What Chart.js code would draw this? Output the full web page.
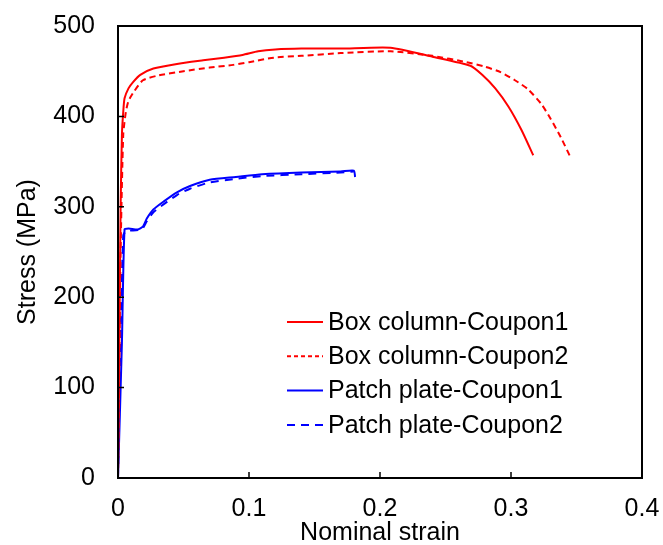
<!DOCTYPE html>
<html lang="en">
<head>
    <meta charset="UTF-8">
    <title>Stress - strain of coupons</title>
    <script src="https://cdn.jsdelivr.net/npm/chart.js"></script>
    <style>
        html, body { margin: 0; padding: 0; background: #fff; }
        #wrap { width: 663px; height: 545px; }
    </style>
</head>
<body>
    <div id="wrap"><canvas id="myChart" width="663" height="545"></canvas></div>
    <script>
        // values
        const boxC1Strain = [0, 0.001, 0.002, 0.003, 0.004, 0.005, 0.008, 0.0115, 0.017, 0.027, 0.045, 0.065, 0.081, 0.095, 0.107, 0.12, 0.14, 0.17, 0.208, 0.24, 0.269, 0.278, 0.288, 0.298, 0.308, 0.317];
        const boxC1Stress = [0, 150, 300, 380, 405, 420, 431, 438, 446, 453, 458, 462, 465, 468, 472, 474, 475, 475, 476, 466, 456, 446, 431, 411, 385, 357];

        const boxC2Strain = [0, 0.002, 0.004, 0.006, 0.008, 0.012, 0.019, 0.03, 0.05, 0.07, 0.088, 0.1, 0.119, 0.14, 0.17, 0.208, 0.24, 0.266, 0.28, 0.292, 0.303, 0.313, 0.323, 0.33, 0.338, 0.346];
        const boxC2Stress = [0, 250, 380, 405, 417, 427, 440, 445, 450, 454, 457, 460, 465, 467, 470, 472, 467, 460, 455, 449, 440, 430, 414, 398, 377, 353];

        const patchC1Strain = [0, 0.003, 0.005, 0.008, 0.015, 0.019, 0.022, 0.027, 0.035, 0.045, 0.055, 0.07, 0.09, 0.11, 0.14, 0.17, 0.18, 0.181];
        const patchC1Stress = [0, 150, 275, 276, 275, 278, 287, 297, 306, 316, 323, 330, 333, 336, 338, 339, 340, 333];

        const patchC2Strain = [0, 0.002, 0.004, 0.006, 0.018, 0.022, 0.027, 0.035, 0.045, 0.055, 0.07, 0.09, 0.11, 0.14, 0.17, 0.18];
        const patchC2Stress = [0, 160, 268, 273, 275, 284, 294, 303, 313, 320, 327, 331, 334, 336, 338, 339];

        const xTicks = [0, 0.1, 0.2, 0.3, 0.4];
        const yTicks = [0, 100, 200, 300, 400, 500];

        function pts(xs, ys) {
            return xs.map((x, i) => ({ x: x, y: ys[i] }));
        }

        const FONT = 'Liberation Sans, Arial, sans-serif';

        // frame round the plot, inside tick marks, and the legend inside the plot
        const framePlugin = {
            id: 'frame',
            afterDraw(chart) {
                const ctx = chart.ctx;
                const a = chart.chartArea;
                const sx = chart.scales.x, sy = chart.scales.y;
                ctx.save();
                ctx.strokeStyle = '#000';
                ctx.lineWidth = 2;
                ctx.strokeRect(a.left, a.top, a.right - a.left, a.bottom - a.top);
                ctx.lineWidth = 1.5;
                ctx.beginPath();
                xTicks.forEach(v => {
                    const px = sx.getPixelForValue(v);
                    ctx.moveTo(px, a.bottom);
                    ctx.lineTo(px, a.bottom - 6);
                });
                yTicks.forEach(v => {
                    const py = sy.getPixelForValue(v);
                    ctx.moveTo(a.left, py);
                    ctx.lineTo(a.left + 6, py);
                });
                ctx.stroke();

                // legend
                ctx.font = '25px ' + FONT;
                ctx.textBaseline = 'middle';
                ctx.fillStyle = '#000';
                const lx = 287, tx = 328;
                let ly = 322;
                chart.data.datasets.forEach(ds => {
                    ctx.strokeStyle = ds.borderColor;
                    ctx.lineWidth = 2;
                    ctx.setLineDash(ds.legendDash || []);
                    ctx.beginPath();
                    ctx.moveTo(lx, ly);
                    ctx.lineTo(lx + 36, ly);
                    ctx.stroke();
                    ctx.setLineDash([]);
                    ctx.fillText(ds.label, tx, ly + 1);
                    ly += 34.3;
                });
                ctx.restore();
            }
        };

        const ctx = document.getElementById('myChart').getContext('2d');
        const myChart = new Chart(ctx, {
            type: 'scatter',
            data: {
                datasets: [
                    { label: 'Box column-Coupon1', data: pts(boxC1Strain, boxC1Stress), borderColor: '#ff0000', borderWidth: 2, showLine: true, pointRadius: 0, tension: 0.2 },
                    { label: 'Box column-Coupon2', data: pts(boxC2Strain, boxC2Stress), borderColor: '#ff0000', borderWidth: 2, borderDash: [6, 4], legendDash: [4, 3], showLine: true, pointRadius: 0, tension: 0.2 },
                    { label: 'Patch plate-Coupon1', data: pts(patchC1Strain, patchC1Stress), borderColor: '#0000ff', borderWidth: 2, showLine: true, pointRadius: 0, tension: 0.2 },
                    { label: 'Patch plate-Coupon2', data: pts(patchC2Strain, patchC2Stress), borderColor: '#0000ff', borderWidth: 2, borderDash: [8, 6], legendDash: [8, 6], showLine: true, pointRadius: 0, tension: 0.2 }
                ]
            },
            options: {
                responsive: false,
                animation: false,
                layout: { padding: { top: 26, right: 21, left: 0, bottom: 0 } },
                plugins: {
                    legend: { display: false },
                    tooltip: { enabled: false }
                },
                scales: {
                    x: {
                        type: 'linear',
                        min: 0,
                        max: 0.4,
                        afterBuildTicks: s => { s.ticks = xTicks.map(v => ({ value: v })); },
                        afterFit: s => { s.height = 67; s.paddingLeft = 0; s.paddingRight = 0; },
                        grid: { display: false, drawTicks: false },
                        border: { display: false },
                        ticks: {
                            color: '#000',
                            padding: 16,
                            maxRotation: 0,
                            font: { family: FONT, size: 25 },
                            callback: v => String(v)
                        },
                        title: {
                            display: true,
                            text: 'Nominal strain',
                            color: '#000',
                            padding: { top: 0, bottom: -3 },
                            font: { family: FONT, size: 25 }
                        }
                    },
                    y: {
                        min: 0,
                        max: 500,
                        afterBuildTicks: s => { s.ticks = yTicks.map(v => ({ value: v })); },
                        afterFit: s => { s.width = 118; s.paddingTop = 0; s.paddingBottom = 0; },
                        grid: { display: false, drawTicks: false },
                        border: { display: false },
                        ticks: {
                            color: '#000',
                            padding: 23,
                            font: { family: FONT, size: 25 }
                        },
                        title: {
                            display: true,
                            text: 'Stress (MPa)',
                            color: '#000',
                            padding: { top: 13, bottom: 0 },
                            font: { family: FONT, size: 25 }
                        }
                    }
                }
            },
            plugins: [framePlugin]
        });
    </script>
</body>
</html>
